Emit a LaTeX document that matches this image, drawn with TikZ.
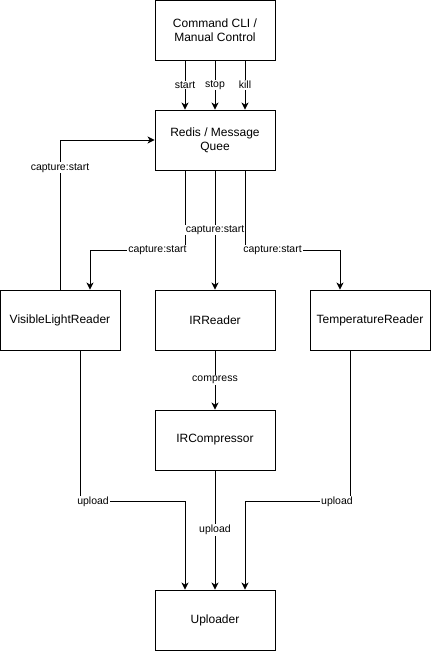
\documentclass[tikz,border=0pt]{standalone}
\usepackage{fontspec}
\setmainfont{Liberation Sans}
\usetikzlibrary{arrows.meta}

\tikzset{
  block/.style={rectangle, draw, line width=0.9pt, fill=white, minimum width=120pt, minimum height=60pt, align=center, font=\fontsize{12}{14}\selectfont},
  flow/.style={line width=0.9pt, -{Stealth[length=7pt, width=7pt, inset=2pt]}},
  tag/.style={fill=white, inner sep=1pt, font=\fontsize{10.5}{12}\selectfont}
}

\begin{document}
\begin{tikzpicture}[x=1pt, y=-1pt]
  \useasboundingbox (0,0) rectangle (437,657);
  \node[block] (cmd) at (215,30) {Command CLI /\\Manual Control};
  \node[block] (redis) at (215,140) {Redis / Message\\Quee};
  \node[block] (vlr) at (60,320) {VisibleLightReader};
  \node[block] (irr) at (215,320) {IRReader};
  \node[block] (tmp) at (370,320) {TemperatureReader};
  \node[block] (irc) at (215,440) {IRCompressor};
  \node[block] (upl) at (215,620) {Uploader};
  % control commands
  \draw[flow] ([xshift=-30pt]cmd.south) -- ([xshift=-30pt]redis.north) node[tag, midway] {start};
  \draw[flow] (cmd.south) -- (redis.north) node[tag, midway] {stop};
  \draw[flow] ([xshift=30pt]cmd.south) -- ([xshift=30pt]redis.north) node[tag, midway] {kill};
  % capture
  \draw[flow] (vlr.north) |- (redis.west) node[tag, pos=0.407] {capture:start};
  \draw[flow] ([xshift=-30pt]redis.south) -- ++(0,80) -| ([xshift=30pt]vlr.north) node[tag, pos=0.145] {capture:start};
  \draw[flow] (redis.south) -- (irr.north) node[tag, midway] {capture:start};
  \draw[flow] ([xshift=30pt]redis.south) -- ++(0,80) -| ([xshift=-30pt]tmp.north) node[tag, pos=0.145] {capture:start};
  \draw[flow] (irr.south) -- (irc.north) node[tag, midway] {compress};
  % upload
  \draw[flow] ([xshift=20pt]vlr.south) -- ++(0,151) -| ([xshift=-30pt]upl.north) node[tag, pos=0.062] {upload};
  \draw[flow] (irc.south) -- (upl.north) node[tag, midway] {upload};
  \draw[flow] ([xshift=-20pt]tmp.south) -- ++(0,151) -| ([xshift=30pt]upl.north) node[tag, pos=0.062] {upload};
\end{tikzpicture}
\end{document}
